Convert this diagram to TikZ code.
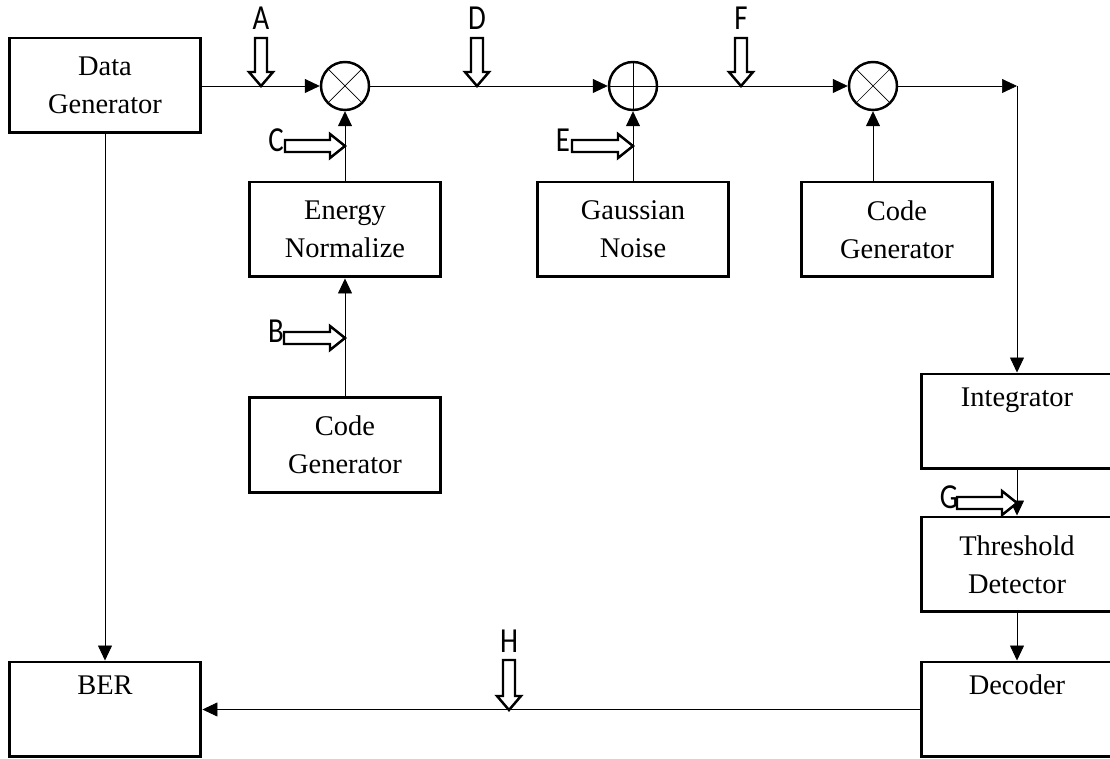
\documentclass[tikz,border=0pt]{standalone}
\usepackage{fontspec}
\setmainfont{Liberation Serif}
\newfontfamily\labfont[FakeStretch=0.82]{Carlito}
\usetikzlibrary{arrows.meta}
\tikzset{
  x=0.02cm, y=-0.02cm,
  line width=1.5pt,
  box/.style={draw, line width=1.7pt, minimum width=3.84cm, minimum height=1.9cm, inner sep=0pt, align=center,
    font=\fontsize{16.2}{21.6}\selectfont},
  mix/.style={draw, circle, minimum size=0.96cm, inner sep=0pt, line width=1.4pt},
  conn/.style={-{Triangle[length=0.3cm,width=0.28cm]}},
  hollowst/.style={draw, line width=1.4pt, fill=white, line join=miter},
  letter/.style={font=\labfont\fontsize{20}{20}\selectfont, inner sep=0pt}
}
\newcommand\hdown[2]{\draw[hollowst,shift={(#1)}] (-6,-#2) -- (6,-#2) -- (6,-14) -- (12,-14) -- (0,0) -- (-12,-14) -- (-6,-14) -- cycle;}
\newcommand\hright[2]{\draw[hollowst,shift={(#1)}] (-#2,-6) -- (-#2,6) -- (-15,6) -- (-15,12) -- (0,0) -- (-15,-12) -- (-15,-6) -- cycle;}
\begin{document}
\begin{tikzpicture}
\useasboundingbox (0,0) rectangle (1110,759);
\clip (0,0) rectangle (1110,759);
% boxes
\node[box] (dg) at (105,85.5) {Data\\Generator};
\node[box] (en) at (345,229.5) {Energy\\Normalize};
\node[box] (cg1) at (345,445) {Code\\Generator};
\node[box] (gn) at (633,229.5) {Gaussian\\Noise};
\node[box] (cg2) at (897,229.5) {Code\\Generator};
\node[box] (integ) at (1017,421.5) {Integrator\\\strut};
\node[box] (thr) at (1017,564.5) {Threshold\\Detector};
\node[box] (dec) at (1017,709.5) {Decoder\\\strut};
\node[box] (ber) at (105,709.5) {BER\\\strut};
% mixers
\node[mix] (m1) at (345,86) {};
\node[mix] (add) at (633,86) {};
\node[mix] (m2) at (873,86) {};
\draw (m1.north east) -- (m1.south west) (m1.north west) -- (m1.south east);
\draw (m2.north east) -- (m2.south west) (m2.north west) -- (m2.south east);
\draw (add.north) -- (add.south) (add.west) -- (add.east);
\coordinate (corner) at (1017,86);
% connectors
\draw[conn] (dg.east |- m1.west) -- (m1.west);
\draw[conn] (m1.east) -- (add.west);
\draw[conn] (add.east) -- (m2.west);
\draw[conn] (m2.east) -- (corner);
\draw[conn] (corner) -- (integ.north);
\draw[conn] (en.north) -- (m1.south);
\draw[conn] (cg1.north) -- (en.south);
\draw[conn] (gn.north) -- (add.south);
\draw[conn] (m2.south |- cg2.north) -- (m2.south);
\draw[conn] (integ.south) -- (thr.north);
\draw[conn] (thr.south) -- (dec.north);
\draw[conn] (dec.west) -- (ber.east |- dec.west);
\draw[conn] (dg.south) -- (ber.north);
% hollow marker arrows
\coordinate (tA) at (261,86);
\coordinate (tD) at (477,86);
\coordinate (tF) at (741,86);
\coordinate (tH) at (509,710);
\coordinate (tC) at (345,146);
\coordinate (tB) at (345,338);
\coordinate (tE) at (633,146);
\coordinate (tG) at (1017,503);
\hdown{tA}{48}
\hdown{tD}{48}
\hdown{tF}{48}
\hdown{tH}{50}
\hright{tC}{60}
\hright{tB}{61}
\hright{tE}{61}
\hright{tG}{60}
% letters
\node[letter] (lA) at (261,18) {A};
\node[letter] (lD) at (477,18) {D};
\node[letter] (lF) at (741,18) {F};
\node[letter] (lH) at (509,641) {H};
\node[letter] (lC) at (276,140) {C};
\node[letter] (lB) at (276,331) {B};
\node[letter] (lE) at (563,140) {E};
\node[letter] (lG) at (949,497) {G};
\end{tikzpicture}
\end{document}
